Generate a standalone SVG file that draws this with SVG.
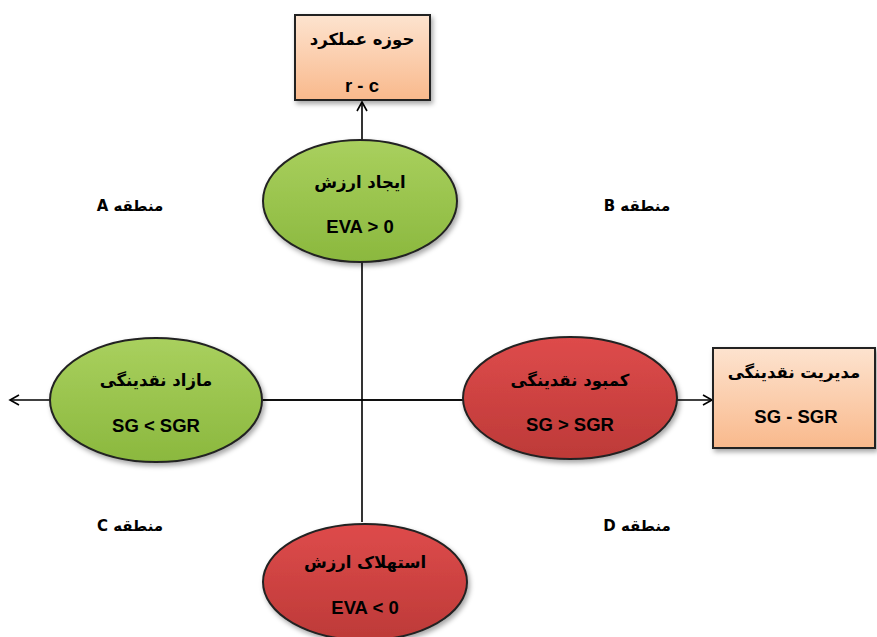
<svg xmlns="http://www.w3.org/2000/svg" width="877" height="637" viewBox="0 0 877 637">
<defs>
<linearGradient id="gGreen" x1="0" y1="0" x2="0" y2="1">
<stop offset="0" stop-color="#a9d05e"/><stop offset="1" stop-color="#8bb83e"/>
</linearGradient>
<linearGradient id="gRed" x1="0" y1="0" x2="0" y2="1">
<stop offset="0" stop-color="#de4b4b"/><stop offset="1" stop-color="#bd3a38"/>
</linearGradient>
<linearGradient id="gPeach" x1="0" y1="0" x2="0" y2="1">
<stop offset="0" stop-color="#fde3cf"/><stop offset="1" stop-color="#f9b98c"/>
</linearGradient>
<filter id="sh" x="-20%" y="-20%" width="140%" height="150%">
<feDropShadow dx="2" dy="3" stdDeviation="2.5" flood-color="#000" flood-opacity="0.35"/>
</filter>
<marker id="arr" markerWidth="12" markerHeight="12" refX="10" refY="6" orient="auto" markerUnits="userSpaceOnUse">
<path d="M1,1 L10,6 L1,11" fill="none" stroke="#000" stroke-width="1.6"/>
</marker>
</defs>
<style>
.conn{stroke:#000;stroke-width:1.6;fill:none}
.shape{stroke:#222;stroke-width:2}
.fa{font-family:"DejaVu Sans","Noto Sans",sans-serif;font-weight:bold;font-size:16.5px;fill:#000;text-anchor:middle}
.en{font-family:"Liberation Sans",Arial,sans-serif;font-weight:bold;font-size:18.5px;fill:#000;text-anchor:middle}
.zone{font-family:"DejaVu Sans","Liberation Sans",sans-serif;font-weight:bold;font-size:15px;fill:#000;text-anchor:middle}
</style>
<rect width="877" height="637" fill="#fff"/>
<g id="connectors">
<line class="conn" x1="362" y1="522" x2="362" y2="102" marker-end="url(#arr)"/>
<line class="conn" x1="463" y1="400" x2="10" y2="400" marker-end="url(#arr)"/>
<line class="conn" x1="262" y1="400" x2="712" y2="400" marker-end="url(#arr)"/>
</g>
<g id="box-performance">
<rect class="shape" x="295" y="15" width="135" height="85" fill="url(#gPeach)" filter="url(#sh)"/>
<text class="fa" x="362" y="45" direction="rtl">حوزه عملکرد</text>
<text class="en" x="362" y="92">r - c</text>
</g>
<g id="ellipse-value-creation">
<ellipse class="shape" cx="360" cy="201" rx="97" ry="61" fill="url(#gGreen)" filter="url(#sh)"/>
<text class="fa" x="360" y="188" direction="rtl">ایجاد ارزش</text>
<text class="en" x="360" y="233">EVA &gt; 0</text>
</g>
<g id="ellipse-surplus">
<ellipse class="shape" cx="156" cy="400" rx="106" ry="62" fill="url(#gGreen)" filter="url(#sh)"/>
<text class="fa" x="156" y="386" direction="rtl">مازاد نقدینگی</text>
<text class="en" x="156" y="432">SG &lt; SGR</text>
</g>
<g id="ellipse-deficit">
<ellipse class="shape" cx="570" cy="398" rx="107" ry="61" fill="url(#gRed)" filter="url(#sh)"/>
<text class="fa" x="570" y="386" direction="rtl">کمبود نقدینگی</text>
<text class="en" x="570" y="431">SG &gt; SGR</text>
</g>
<g id="box-liquidity">
<rect class="shape" x="713" y="348" width="162" height="100" fill="url(#gPeach)" filter="url(#sh)"/>
<text class="fa" x="794" y="378" direction="rtl">مدیریت نقدینگی</text>
<text class="en" x="796" y="423">SG - SGR</text>
</g>
<g id="ellipse-value-destruction">
<ellipse class="shape" cx="365" cy="582" rx="102" ry="58" fill="url(#gRed)" filter="url(#sh)"/>
<text class="fa" x="365" y="568" direction="rtl">استهلاک ارزش</text>
<text class="en" x="365" y="614">EVA &lt; 0</text>
</g>
<g id="zone-A"><text class="zone" x="130" y="211" direction="rtl">منطقه A</text></g>
<g id="zone-B"><text class="zone" x="637" y="211" direction="rtl">منطقه B</text></g>
<g id="zone-C"><text class="zone" x="130" y="531" direction="rtl">منطقه C</text></g>
<g id="zone-D"><text class="zone" x="637" y="531" direction="rtl">منطقه D</text></g>
</svg>
